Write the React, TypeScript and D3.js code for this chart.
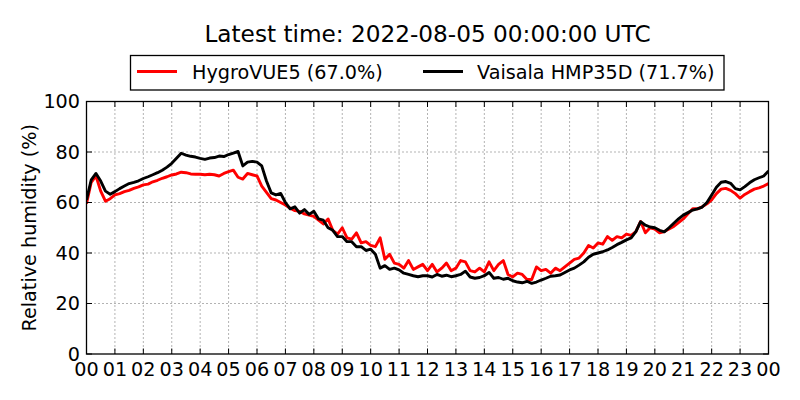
import React from 'react';
import * as d3 from 'd3';

const titleText = 'Latest time: 2022-08-05 00:00:00 UTC';
const yLabel = 'Relative humidity (%)';
const seriesNames = ['HygroVUE5 (67.0%)', 'Vaisala HMP35D (71.7%)'];
const seriesColors = ['#ff0000', '#000000'];
const hourLabels = ['00','01','02','03','04','05','06','07','08','09','10','11','12','13','14','15','16','17','18','19','20','21','22','23','00'];
const yTicks = [0, 20, 40, 60, 80, 100];
const stepMinutes = 10;

// HygroVUE5, one value every 10 minutes
const hygroVUE5 = [
  59.5, 68, 70.5, 64.5, 60.5, 61.5,
  63, 63.5, 64.3, 64.8, 65.6, 66.2,
  67, 67.3, 68.2, 68.8, 69.6, 70.2,
  70.9, 71.3, 72, 71.8, 71.3, 71.2,
  71.2, 71, 71.2, 71, 70.5, 71.5,
  72.2, 72.8, 70, 69.3, 71.5, 71,
  70.5, 66.5, 64, 61.5, 61, 60,
  59, 57.7, 56.8, 56.5, 55.5, 55,
  54.5, 53, 51.5, 53.5, 49, 47.5,
  50, 46, 45.5, 48, 44, 44.5,
  43, 42.5, 46, 37.5, 39.5, 36,
  35.5, 34, 37, 33.5, 34.5, 35.5,
  33, 35.5, 32.5, 34, 36, 33,
  34, 37, 36.5, 33, 32.5, 34,
  32.5, 36.5, 33, 35.5, 37, 31.5,
  30.5, 32, 31.5, 29.5, 29.5, 34.5,
  33, 33.5, 32, 34, 33, 34.5,
  36, 37.5, 38, 40, 43, 42,
  44, 43.5, 46.5, 45, 46.5, 46,
  47.5, 47, 48.5, 52.5, 48, 50,
  49.5, 48, 48.5, 49.5, 50.5, 52,
  53.5, 55.5, 57.5, 57.5, 58.3, 59.5,
  61, 63.5, 65.3, 65.6, 64.8, 63.5,
  61.7, 63.2, 64.3, 65.3, 65.8, 66.5,
  67.5,
];

// Vaisala HMP35D, one value every 10 minutes
const vaisala = [
  61, 69, 71.5, 68.5, 64.5, 63.3,
  64.3, 65.5, 66.5, 67.5, 68, 68.6,
  69.5, 70.2, 71, 71.8, 72.8, 74,
  75.5, 77.5, 79.5, 78.8, 78.3, 78,
  77.5, 77.1, 77.6, 77.8, 78.4, 78.2,
  79, 79.6, 80.2, 74.5, 76, 76.3,
  76, 74.5, 68.5, 63.8, 63, 63.6,
  60, 57.5, 58.3, 55.8, 57.2, 55.3,
  56.5, 53.5, 53, 50, 49, 46.5,
  46.5, 44.5, 44.5, 42.5, 42.5, 41,
  41.5, 39.5, 34, 35, 33.5, 34,
  33.3, 32, 31.5, 31, 30.6, 31,
  31, 30.5, 31.5, 30.8, 31.2, 30.6,
  31, 31.5, 32.8, 30.5, 30, 30.3,
  31, 32.3, 30, 30.3, 29.6, 30,
  29, 28.5, 28.2, 28.8, 28, 28.5,
  29.3, 30, 30.8, 31, 31.3, 32.3,
  33.3, 34, 35.2, 36.5, 38.3, 39.5,
  40, 40.5, 41.2, 42.2, 43.3, 44.2,
  45.2, 46, 48.5, 52.4, 51, 50.3,
  50, 49, 48.4, 50, 51.8, 53.5,
  55, 56, 57, 57.5, 58.2, 60,
  63, 66, 68, 68.3, 67.6, 65.5,
  65, 66.3, 67.8, 69, 69.8, 70.5,
  72.5,
];

const W = 800;
const H = 400;
const L = 86.5, R = 768.5, T = 101.5, B = 354;
const font = 'DejaVu Sans, sans-serif';
const fs = 19.2;

export default function App() {
  const x = d3.scaleLinear().domain([0, 24]).range([L, R]);
  const y = d3.scaleLinear().domain([0, 100]).range([B, T]);
  const line = d3.line<number>()
    .x((_, i) => x((i * stepMinutes) / 60))
    .y((d) => y(d));
  const hours = d3.range(0, 25);
  const tickLen = 5.5;

  return (
    <svg width={W} height={H} style={{ position: 'absolute', left: 0, top: 0, background: '#fff' }} fontFamily={font}>
      <rect x={0} y={0} width={W} height={H} fill="#fff" />
      <text x={(L + R) / 2} y={42} fontSize={23.2} textAnchor="middle">{titleText}</text>

      {/* grid */}
      <g stroke="#000" strokeWidth={0.6} strokeDasharray="1,3">
        {hours.slice(1, -1).map((h) => (
          <line key={'gx' + h} x1={x(h)} x2={x(h)} y1={T} y2={B} />
        ))}
        {yTicks.slice(1, -1).map((v) => (
          <line key={'gy' + v} x1={L} x2={R} y1={y(v)} y2={y(v)} />
        ))}
      </g>

      {/* series */}
      <clipPath id="plotclip">
        <rect x={L} y={T} width={R - L} height={B - T} />
      </clipPath>
      <g clipPath="url(#plotclip)" fill="none" strokeWidth={2.9} strokeLinejoin="round">
        <path d={line(hygroVUE5) || ''} stroke={seriesColors[0]} />
        <path d={line(vaisala) || ''} stroke={seriesColors[1]} />
      </g>

      {/* ticks */}
      <g stroke="#000" strokeWidth={1}>
        {hours.map((h) => (
          <g key={'tx' + h}>
            <line x1={x(h)} x2={x(h)} y1={B} y2={B - tickLen} />
            <line x1={x(h)} x2={x(h)} y1={T} y2={T + tickLen} />
          </g>
        ))}
        {yTicks.map((v) => (
          <g key={'ty' + v}>
            <line x1={L} x2={L + tickLen} y1={y(v)} y2={y(v)} />
            <line x1={R} x2={R - tickLen} y1={y(v)} y2={y(v)} />
          </g>
        ))}
      </g>
      <rect x={L} y={T} width={R - L} height={B - T} fill="none" stroke="#000" strokeWidth={1.3} />

      {/* tick labels */}
      <g fontSize={fs}>
        {hours.map((h) => (
          <text key={'lx' + h} x={x(h)} y={376} textAnchor="middle">{hourLabels[h]}</text>
        ))}
        {yTicks.map((v) => (
          <text key={'ly' + v} x={80} y={y(v)} dy="0.36em" textAnchor="end">{v}</text>
        ))}
      </g>
      <text transform={`translate(36,${(T + B) / 2}) rotate(-90)`} fontSize={fs} textAnchor="middle">{yLabel}</text>

      {/* legend */}
      <rect x={130.5} y={55.5} width={593.5} height={34.5} fill="#fff" stroke="#000" strokeWidth={1.3} />
      <line x1={137} x2={177} y1={71.5} y2={71.5} stroke={seriesColors[0]} strokeWidth={2.9} />
      <text x={192} y={79} fontSize={fs}>{seriesNames[0]}</text>
      <line x1={423} x2={463} y1={71.5} y2={71.5} stroke={seriesColors[1]} strokeWidth={2.9} />
      <text x={477} y={79} fontSize={fs}>{seriesNames[1]}</text>
    </svg>
  );
}
